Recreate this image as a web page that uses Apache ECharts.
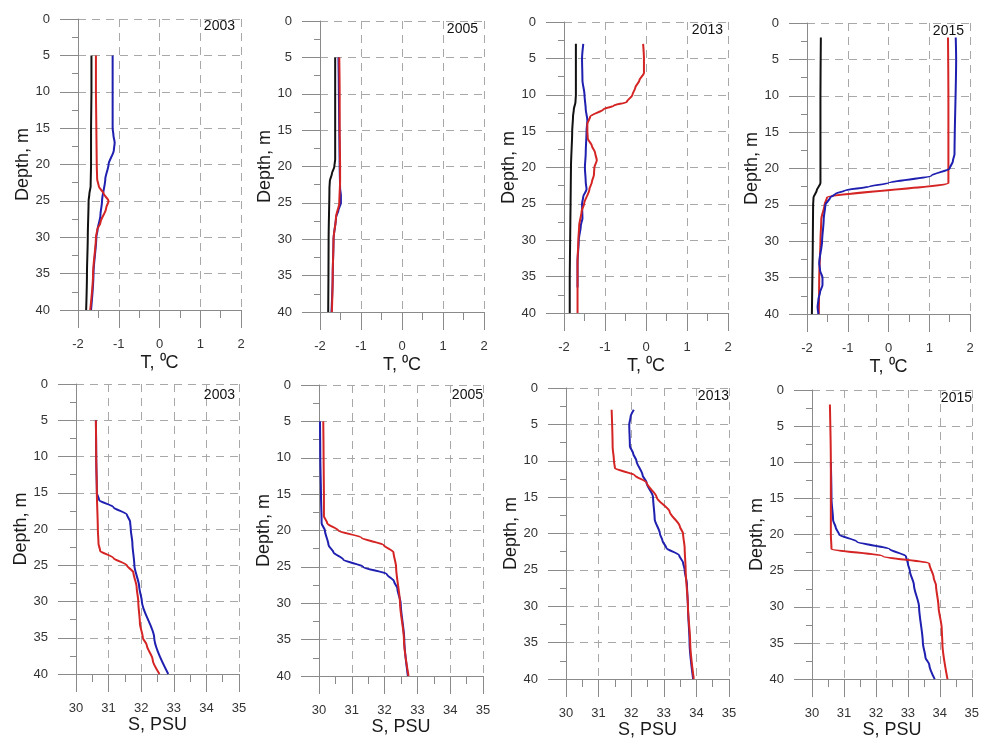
<!DOCTYPE html>
<html>
<head>
<meta charset="utf-8">
<script src="https://cdn.jsdelivr.net/npm/echarts@6/dist/echarts.min.js"></script>
<style>html,body{margin:0;padding:0;background:#fff}#c{width:982px;height:740px}</style>
</head>
<body>
<div id="c"></div>
<script>
// ---------- Data ----------
const years = ['2003', '2005', '2013', '2015'];
const tTicks = [-2, -1, 0, 1, 2];
const sTicks = [30, 31, 32, 33, 34, 35];
const depthTicks = [0, 5, 10, 15, 20, 25, 30, 35, 40];

// Temperature 2003
const t2003_black_d = [5,10,15,20,23,24,25,30,35,40];
const t2003_black   = [-1.67,-1.67,-1.68,-1.68,-1.69,-1.72,-1.74,-1.76,-1.78,-1.80];
const t2003_red_d   = [5,10,15,20,22,23,24,25,26,28,29,30,35,40];
const t2003_red     = [-1.56,-1.56,-1.55,-1.54,-1.53,-1.49,-1.37,-1.25,-1.31,-1.45,-1.53,-1.56,-1.63,-1.70];
const t2003_blue_d  = [5,10,15,16,17,18,20,22,25,27,29,30,35,40];
const t2003_blue    = [-1.15,-1.15,-1.15,-1.13,-1.10,-1.12,-1.25,-1.33,-1.41,-1.45,-1.52,-1.55,-1.62,-1.68];

// Temperature 2005
const t2005_black_d = [5,10,15,19,20,21,22,23,30,40];
const t2005_black   = [-1.63,-1.63,-1.63,-1.63,-1.65,-1.71,-1.76,-1.77,-1.79,-1.80];
const t2005_red_d   = [5,10,15,20,22,25,27,30,35,40];
const t2005_red     = [-1.53,-1.52,-1.52,-1.51,-1.51,-1.53,-1.61,-1.67,-1.69,-1.71];
const t2005_blue_d  = [5,10,15,20,23,24,25,26,27,30,35,40];
const t2005_blue    = [-1.55,-1.54,-1.53,-1.52,-1.51,-1.49,-1.49,-1.55,-1.61,-1.67,-1.69,-1.72];

// Temperature 2013
const t2013_black_d = [3,5,10,11,12,13,15,20,25,30,35,40];
const t2013_black   = [-1.71,-1.71,-1.71,-1.72,-1.76,-1.78,-1.80,-1.83,-1.84,-1.85,-1.86,-1.86];
const t2013_blue_d  = [3,5,8,10,12,13.5,15,18,20,22,23,24,25,27,28,30,33,36.5];
const t2013_blue    = [-1.53,-1.56,-1.55,-1.50,-1.47,-1.43,-1.45,-1.47,-1.49,-1.47,-1.45,-1.53,-1.56,-1.55,-1.59,-1.64,-1.67,-1.67];
const t2013_red_d   = [3,5,7,8,9,10,11,11.5,12,13,14,15,16,17,18,19,20,21,22,23,25,26,28,30,33,35,40];
const t2013_red     = [-0.07,-0.05,-0.05,-0.16,-0.26,-0.33,-0.47,-0.79,-1.04,-1.36,-1.43,-1.43,-1.42,-1.32,-1.24,-1.20,-1.26,-1.27,-1.32,-1.38,-1.51,-1.57,-1.63,-1.65,-1.67,-1.67,-1.67];

// Temperature 2015
const t2015_black_d = [2,10,20,22,23,24,25,40];
const t2015_black   = [-1.66,-1.67,-1.67,-1.67,-1.76,-1.84,-1.85,-1.88];
const t2015_red_d   = [2,10,20,22,24,25,27,30,35,40];
const t2015_red     = [1.46,1.47,1.47,1.47,-1.51,-1.57,-1.65,-1.67,-1.70,-1.71];
const t2015_blue_d  = [2,5,18,19,20,21,22,22.5,23,23.5,24,25,27,30,33,34,35,36,37,38,39,40];
const t2015_blue    = [1.65,1.66,1.62,1.58,1.50,1.05,-0.01,-0.49,-1.06,-1.31,-1.43,-1.55,-1.59,-1.63,-1.70,-1.68,-1.62,-1.62,-1.68,-1.72,-1.74,-1.72];

// Salinity 2003
const s2003_blue_d = [5,10,15,16,17,18,19,20,22,25,28,30,35,40];
const s2003_blue   = [30.61,30.62,30.64,30.71,31.15,31.56,31.66,31.68,31.73,31.79,31.94,32.02,32.40,32.83];
const s2003_red_d  = [5,10,15,20,22,23,24,25,26,28,30,33,35,36,38,40];
const s2003_red    = [30.61,30.62,30.64,30.67,30.69,30.74,31.15,31.56,31.76,31.86,31.91,31.96,32.05,32.17,32.35,32.56];

// Salinity 2005
const s2005_blue_d = [5,10,15,19,20,22,23,24,25,26,27,28,30,35,40];
const s2005_blue   = [30.03,30.04,30.06,30.08,30.18,30.29,30.44,30.74,31.35,32.07,32.29,32.39,32.49,32.60,32.71];
const s2005_red_d  = [5,10,15,18,19,20,21,22,23,25,30,35,40];
const s2005_red    = [30.13,30.14,30.15,30.15,30.25,30.59,31.30,31.97,32.27,32.35,32.47,32.59,32.73];

// Salinity 2013
const s2013_blue_d = [3,4,5,8,9,10,12,13,15,18,20,21,22,23,24,25,27,30,35,40];
const s2013_blue   = [32.08,31.98,31.94,31.96,32.06,32.16,32.35,32.47,32.67,32.72,32.88,32.96,33.08,33.47,33.59,33.64,33.71,33.74,33.79,33.90];
const s2013_red_d  = [3,8,10,11,12,13,15,17,19,20,22,25,30,35,40];
const s2013_red    = [31.40,31.43,31.47,31.50,32.11,32.47,32.78,33.18,33.49,33.59,33.64,33.67,33.74,33.81,33.92];

// Salinity 2015
const s2015_blue_d = [10,15,18,19,20,21,22,23,24,25,27,30,35,37,38,40];
const s2015_blue   = [30.59,30.61,30.66,30.74,30.85,31.41,32.43,32.94,33.00,33.06,33.19,33.35,33.47,33.55,33.67,33.84];
const s2015_red_d  = [2,10,20,22,23,24,26,27,30,33,35,40];
const s2015_red    = [30.56,30.59,30.59,30.61,32.22,33.67,33.81,33.88,33.96,34.06,34.08,34.24];

// ---------- Layout / styles ----------
const FONT = 'Liberation Sans, Arial, sans-serif';
const COLORS = { black: '#111111', blue: '#1f1fb0', red: '#d42424' };
const layout = [
  { left: 78,  top: 19,  width: 163, height: 291, yr: [235, 28] },
  { left: 320, top: 21,  width: 164, height: 291, yr: [478, 31] },
  { left: 564, top: 22,  width: 164, height: 291, yr: [723, 32] },
  { left: 807, top: 23,  width: 163, height: 291, yr: [964, 33] },
  { left: 76,  top: 384, width: 163, height: 290, yr: [235, 397] },
  { left: 319, top: 385, width: 164, height: 291, yr: [483, 397] },
  { left: 566, top: 388, width: 163, height: 291, yr: [729, 398] },
  { left: 812, top: 390, width: 164, height: 291, yr: [972, 400] }
];

const panels = [
  { kind: 'T', lines: [['black', t2003_black_d, t2003_black], ['blue', t2003_blue_d, t2003_blue], ['red', t2003_red_d, t2003_red]] },
  { kind: 'T', lines: [['black', t2005_black_d, t2005_black], ['blue', t2005_blue_d, t2005_blue], ['red', t2005_red_d, t2005_red]] },
  { kind: 'T', lines: [['black', t2013_black_d, t2013_black], ['blue', t2013_blue_d, t2013_blue], ['red', t2013_red_d, t2013_red]] },
  { kind: 'T', lines: [['black', t2015_black_d, t2015_black], ['red', t2015_red_d, t2015_red], ['blue', t2015_blue_d, t2015_blue]] },
  { kind: 'S', lines: [['blue', s2003_blue_d, s2003_blue], ['red', s2003_red_d, s2003_red]] },
  { kind: 'S', lines: [['blue', s2005_blue_d, s2005_blue], ['red', s2005_red_d, s2005_red]] },
  { kind: 'S', lines: [['blue', s2013_blue_d, s2013_blue], ['red', s2013_red_d, s2013_red]] },
  { kind: 'S', lines: [['blue', s2015_blue_d, s2015_blue], ['red', s2015_red_d, s2015_red]] }
];

const grid = [], xAxis = [], yAxis = [], series = [], title = [];
const axisGray = '#8a8a8a';
const splitGray = '#a8a8a8';

panels.forEach((p, i) => {
  const L = layout[i];
  grid.push({ left: L.left, top: L.top, width: L.width, height: L.height, containLabel: false, show: false });
  const isT = p.kind === 'T';
  const ticks = isT ? tTicks : sTicks;
  xAxis.push({
    gridIndex: i, type: 'value',
    min: ticks[0], max: ticks[ticks.length - 1], interval: 1,
    position: 'bottom',
    name: isT ? 'T, \u2070C' : 'S, PSU',
    nameLocation: 'middle', nameGap: isT ? 44 : 37,
    nameTextStyle: { fontFamily: FONT, fontSize: 18, color: '#1a1a1a' },
    axisLine: { show: true, onZero: false, lineStyle: { color: axisGray, width: 1 } },
    axisTick: { show: true, inside: false, length: 18, lineStyle: { color: axisGray } },
    minorTick: { show: true, splitNumber: 2, length: 8, lineStyle: { color: axisGray } },
    axisLabel: { fontFamily: FONT, fontSize: 13, color: '#333', margin: 28 },
    splitLine: { show: true, lineStyle: { color: splitGray, type: [8, 6], width: 1 } },
    minorSplitLine: { show: false }
  });
  yAxis.push({
    gridIndex: i, type: 'value', inverse: true,
    min: depthTicks[0], max: depthTicks[depthTicks.length - 1], interval: 5,
    position: 'left',
    name: 'Depth, m', nameLocation: 'middle', nameGap: 46, nameRotate: 90,
    nameTextStyle: { fontFamily: FONT, fontSize: 18, color: '#1a1a1a' },
    axisLine: { show: true, onZero: false, lineStyle: { color: axisGray, width: 1 } },
    axisTick: { show: true, inside: false, length: 18, lineStyle: { color: axisGray } },
    minorTick: { show: true, splitNumber: 2, length: 6, lineStyle: { color: axisGray } },
    axisLabel: { fontFamily: FONT, fontSize: 13, color: '#333', margin: 28 },
    splitLine: { show: true, lineStyle: { color: splitGray, type: [8, 6], width: 1 } }
  });
  title.push({
    text: years[i % 4],
    right: 982 - L.yr[0], top: L.yr[1] - 9, padding: 0,
    textStyle: { fontFamily: FONT, fontSize: 14, fontWeight: 'normal', color: '#111' }
  });
  p.lines.forEach(([c, d, v]) => {
    series.push({
      type: 'line', xAxisIndex: i, yAxisIndex: i,
      data: v.map((val, k) => [val, d[k]]),
      showSymbol: false, symbol: 'none',
      lineStyle: { color: COLORS[c], width: 2 },
      itemStyle: { color: COLORS[c] },
      smooth: 0.25, smoothMonotone: 'y',
      animation: false, silent: true
    });
  });
});

const chart = echarts.init(document.getElementById('c'), null, { renderer: 'canvas' });
chart.setOption({ animation: false, backgroundColor: '#fff', title, grid, xAxis, yAxis, series });
</script>
</body>
</html>
